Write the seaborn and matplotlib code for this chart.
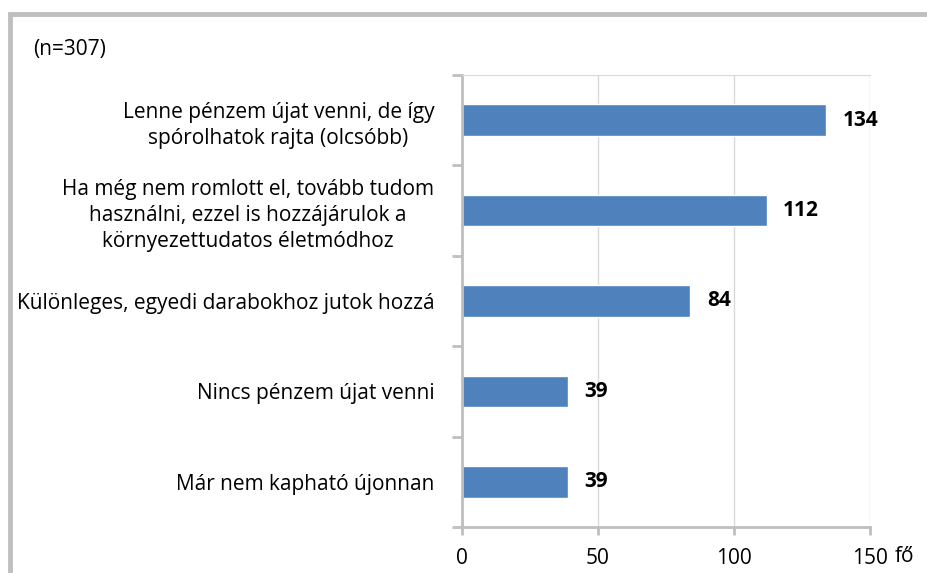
import numpy as np
import pandas as pd
import matplotlib
matplotlib.use("Agg")
import matplotlib.pyplot as plt
import seaborn as sns
from matplotlib.patches import Rectangle

# data
categories = [
    "Lenne pénzem újat venni, de így\nspórolhatok rajta (olcsóbb)",
    "Ha még nem romlott el, tovább tudom\nhasználni, ezzel is hozzájárulok a\nkörnyezettudatos életmódhoz",
    "Különleges, egyedi darabokhoz jutok hozzá",
    "Nincs pénzem újat venni",
    "Már nem kapható újonnan",
]
values = [134, 112, 84, 39, 39]
x_ticks = [0, 50, 100, 150]

df = pd.DataFrame({"category": categories, "value": values})

sns.set_style("white")
plt.rcParams["font.family"] = ["Open Sans", "DejaVu Sans"]
plt.rcParams["text.color"] = "black"
plt.rcParams["xtick.color"] = "black"
plt.rcParams["ytick.color"] = "black"

FS = 15

W, H = 928, 573
fig = plt.figure(figsize=(W / 100, H / 100), dpi=100)
ax = fig.add_axes([462 / W, 1 - 527 / H, (870 - 462) / W, (527 - 75) / H])

sns.barplot(data=df, x="value", y="category", orient="h", color="#4F81BD",
            saturation=1, width=0.35, ax=ax)

ax.set_xlim(0, 150)
ax.set_ylim(len(categories) - 0.5, -0.5)
ax.set_xlabel("")
ax.set_ylabel("")

grid_c = "#D9D9D9"
axis_c = "#BFBFBF"
for x in x_ticks[1:]:
    ax.axvline(x, color=grid_c, lw=1, zorder=0)

ax.spines["right"].set_visible(False)
ax.spines["top"].set_color(grid_c)
ax.spines["left"].set_color(axis_c)
ax.spines["bottom"].set_color(axis_c)
ax.spines["left"].set_linewidth(2)
ax.spines["bottom"].set_linewidth(2)

ax.set_xticks(x_ticks)
ax.set_xticklabels([str(t) for t in x_ticks], fontsize=FS)
ax.tick_params(axis="x", bottom=True, length=6, width=2, color=axis_c,
               labelcolor="black", pad=9)

ax.set_yticks(range(len(categories)))
ax.set_yticklabels(categories, fontsize=FS, multialignment="center", linespacing=1.32)
ax.tick_params(axis="y", which="major", left=False, length=0, pad=20, labelcolor="black")
ax.set_yticks(np.arange(-0.5, len(categories), 1), minor=True)
ax.tick_params(axis="y", which="minor", left=True, length=7, width=2, color=axis_c)

for i, v in enumerate(values):
    ax.text(v + 6, i, str(v), va="center", ha="left", fontsize=FS, fontweight="bold")

fig.text(895 / W, 1 - 557 / H, "fő", fontsize=FS, ha="left", va="center")
fig.text(33 / W, 1 - 49 / H, "(n=307)", fontsize=FS, ha="left", va="center")

fig.patches.append(Rectangle((10 / W, -0.1), 1.2, 1 - 14 / H + 0.1,
                             transform=fig.transFigure, fill=False,
                             edgecolor=axis_c, lw=3.5))

fig.savefig("out.png", dpi=100)
